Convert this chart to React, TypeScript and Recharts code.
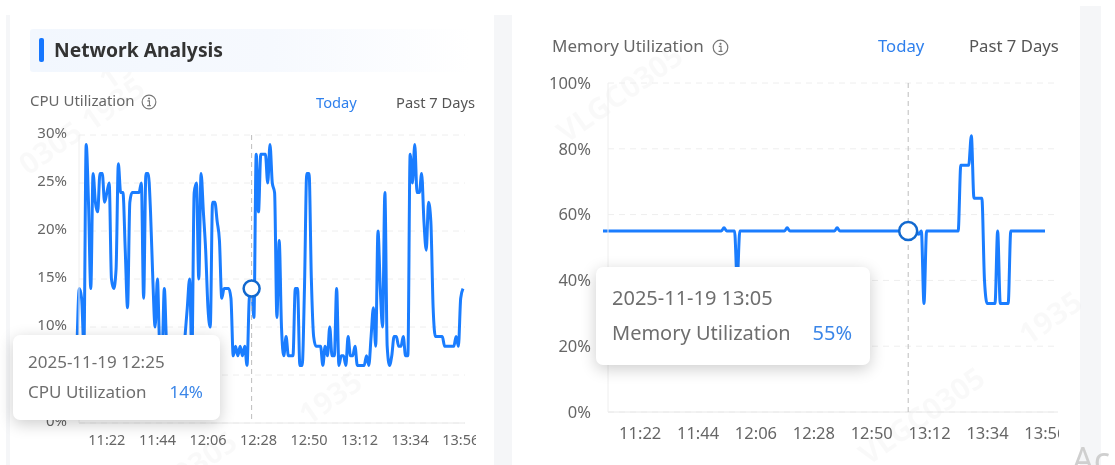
import React from 'react';
import { LineChart, Line, XAxis, YAxis, CartesianGrid, Tooltip } from 'recharts';

const START_MINUTE = 11 * 60 + 9;
const tickMinutes = [682, 704, 726, 748, 770, 792, 814, 836];
const cpuTicks = [0, 5, 10, 15, 20, 25, 30];
const memoryTicks = [0, 20, 40, 60, 80, 100];

const cpuValues = [
  8, 14, 13, 8, 29, 23, 14, 26, 23, 22, 26, 26, 23, 24, 25, 15, 14, 16, 27, 24,
  24, 18, 12, 23, 24, 24, 24, 24, 25, 13, 26, 26, 22, 15, 10, 15, 8, 7, 14, 8,
  6, 6, 6, 6, 6, 6, 6, 9, 12, 15, 7, 24, 25, 15, 26, 22, 18, 12, 10, 23,
  23, 21, 19, 13, 14, 14, 14, 13, 7, 8, 7, 8, 7, 8, 6, 13, 14, 11, 28, 22,
  28, 28, 28, 25, 29, 25, 24, 11, 19, 10, 7, 9, 7, 7, 7, 14, 14, 6, 6, 14,
  26, 26, 15, 9, 8, 8, 8, 6, 8, 7, 10, 7, 7, 14, 6, 7, 7, 6, 9, 7,
  7, 8, 6, 6, 6, 6, 7, 6, 9, 12, 8, 20, 14, 10, 24, 8, 6, 7, 9, 9,
  8, 8, 9, 7, 7, 28, 25, 29, 24, 24, 26, 21, 18, 23, 21, 12, 9, 9, 9, 9,
  8, 8, 8, 8, 8, 9, 8, 13, 14,
];

const memoryValues = [
  55, 55, 55, 55, 55, 55, 55, 55, 55, 55, 55, 55, 55, 55, 55, 55, 55, 55, 55, 55,
  55, 55, 55, 55, 55, 55, 55, 55, 55, 55, 55, 55, 55, 55, 55, 55, 55, 55, 55, 55,
  55, 55, 55, 55, 55, 55, 56, 55, 55, 55, 55, 40, 55, 55, 55, 55, 55, 55, 55, 55,
  55, 55, 55, 55, 55, 55, 55, 55, 55, 55, 56, 55, 55, 55, 55, 55, 55, 55, 55, 55,
  55, 55, 55, 55, 55, 55, 55, 55, 55, 56, 55, 55, 55, 55, 55, 55, 55, 55, 55, 55,
  55, 55, 55, 55, 55, 55, 55, 55, 55, 55, 55, 55, 55, 55, 55, 55, 55, 55, 55, 55,
  54, 55, 33, 55, 55, 55, 55, 55, 55, 55, 55, 55, 55, 55, 55, 55, 75, 75, 75, 75,
  84, 65, 65, 65, 65, 40, 33, 33, 33, 33, 55, 33, 33, 33, 33, 55, 55, 55, 55, 55,
  55, 55, 55, 55, 55, 55, 55, 55, 55,
];

const clock = (m: number) => `${Math.floor(m / 60)}:${String(m % 60).padStart(2, '0')}`;
const cpuData = cpuValues.map((value, i) => ({ minute: START_MINUTE + i, value }));
const memoryData = memoryValues.map((value, i) => ({ minute: START_MINUTE + i, value }));

const FONT = '"Noto Sans", sans-serif';
const BLUE = '#1a7dff';
const GRID = '#eeeeee';

function Tip({ active, payload, name, fontSize, box, labelGap }: any) {
  if (!active || !payload || !payload.length) return null;
  const p = payload[0];
  return (
    <div style={{ boxSizing: 'border-box', width: box.w, height: box.h, background: '#fff', borderRadius: 7,
      boxShadow: '0 4px 16px rgba(0,0,0,0.2)', padding: `${box.pt}px ${box.pr}px 0 ${box.pl}px`, fontFamily: FONT, fontSize, color: '#6e6e6e' }}>
      <div style={{ lineHeight: '24px', whiteSpace: 'nowrap' }}>2025-11-19 {clock(p.payload.minute)}</div>
      <div style={{ lineHeight: '24px', marginTop: labelGap, display: 'flex', justifyContent: 'space-between', whiteSpace: 'nowrap' }}>
        <span>{name}</span>
        <span style={{ color: '#3b86e8' }}>{p.value}%</span>
      </div>
    </div>
  );
}

function Info({ x, y, s }: { x: number; y: number; s: number }) {
  return (
    <svg width={s} height={s} viewBox="0 0 14 14" style={{ position: 'absolute', left: x, top: y }}>
      <circle cx="7" cy="7" r="6" fill="none" stroke="#777" strokeWidth="1" />
      <circle cx="7" cy="4" r="0.9" fill="#777" />
      <path d="M5.6 6h1.8v4M5.4 10.2h3.2" fill="none" stroke="#777" strokeWidth="1" />
    </svg>
  );
}

function Label({ x, y, size, color, children, weight }: any) {
  return (
    <div style={{ position: 'absolute', left: x, top: y, fontFamily: FONT, fontSize: size, color, fontWeight: weight || 400,
      lineHeight: '24px', whiteSpace: 'nowrap' }}>{children}</div>
  );
}

const marks = [
  ['VLGC0305', 548, 118], ['1935', 1010, 320], ['VLGC0305', 850, 440], ['0305  1935', 10, 150],
  ['1935', 90, 65], ['1935', 290, 400], ['0305', 165, 460],
];

export default function App() {
  return (
    <div style={{ position: 'absolute', left: 0, top: 0, width: 1115, height: 465, background: '#fff', overflow: 'hidden', filter: 'blur(0.35px)' }}>
      <div style={{ position: 'absolute', left: 6, top: 15, width: 4, height: 450, background: '#f5f6f8' }} />
      <div style={{ position: 'absolute', left: 494, top: 15, width: 18, height: 450, background: '#f5f6f8' }} />
      <div style={{ position: 'absolute', left: 1080, top: 6, width: 21, height: 459, background: '#f5f6f8' }} />
      {marks.map(([t, x, y], i) => (
        <div key={i} style={{ position: 'absolute', left: x as number, top: y as number, fontFamily: FONT, fontSize: 30, fontWeight: 700,
          color: 'rgba(0,0,0,0.022)', transform: 'rotate(-35deg)', transformOrigin: 'left top', whiteSpace: 'nowrap' }}>{t}</div>
      ))}

      <div style={{ position: 'absolute', left: 30, top: 29, width: 440, height: 43, borderRadius: 3,
        background: 'linear-gradient(90deg,#f2f7fe 0%,#f6f9fe 55%,#ffffff 100%)' }} />
      <div style={{ position: 'absolute', left: 39, top: 38, width: 5, height: 24, borderRadius: 2, background: '#1677ff' }} />
      <Label x={54} y={38} size={19.3} color="#333" weight={700}>Network Analysis</Label>
      <Label x={30} y={88} size={15} color="#666">CPU Utilization</Label>
      <Info x={141} y={94} s={16} />
      <Label x={316} y={90} size={14.7} color="#2f80ed">Today</Label>
      <Label x={396} y={90} size={14.7} color="#555">Past 7 Days</Label>

      <Label x={552} y={34} size={17} color="#666">Memory Utilization</Label>
      <Info x={712} y={39} s={17} />
      <Label x={878} y={34} size={16.7} color="#2f80ed">Today</Label>
      <Label x={969} y={34} size={16.7} color="#555">Past 7 Days</Label>
      <div style={{ position: 'absolute', left: 1072, top: 436, fontFamily: FONT, fontSize: 34, color: '#cfcfcf', whiteSpace: 'nowrap' }}>Ac</div>

      <div style={{ position: 'absolute', left: 0, top: 0, width: 476, height: 465, overflow: 'hidden' }}>
        <LineChart width={476} height={465} data={cpuData} margin={{ top: 135, right: 11, bottom: 0, left: 0 }}>
          <CartesianGrid horizontal vertical={false} stroke={GRID} strokeDasharray="6 5" />
          <XAxis dataKey="minute" type="number" domain={[START_MINUTE, START_MINUTE + 168]} ticks={tickMinutes} interval={0}
            tickFormatter={clock} height={42} padding={{ left: -2, right: 2 }} tickLine={false} axisLine={{ stroke: '#e8e8e8' }}
            tick={{ fontFamily: FONT, fontSize: 14.5, fill: '#666' }} tickMargin={6} />
          <YAxis width={79} domain={[0, 30]} ticks={cpuTicks} interval={0} tickFormatter={(v: number) => `${v}%`} tickLine={false}
            axisLine={{ stroke: '#eeeeee' }} tick={{ fontFamily: FONT, fontSize: 15, fill: '#666', dy: -2 }} tickMargin={6} />
          <Tooltip defaultIndex={76} position={{ x: 13, y: 335 }} allowEscapeViewBox={{ x: true, y: true }} isAnimationActive={false}
            wrapperStyle={{ zIndex: 5, outline: 'none' }} cursor={{ stroke: '#bdbdbd', strokeDasharray: '5 4', strokeWidth: 1 }}
            content={<Tip name="CPU Utilization" fontSize={17} labelGap={6} box={{ w: 207, h: 85, pt: 15, pl: 15, pr: 17 }} />} />
          <Line dataKey="value" type="monotone" stroke={BLUE} strokeWidth={3} dot={false} isAnimationActive={false}
            activeDot={{ r: 8, fill: '#fff', stroke: '#1269cf', strokeWidth: 2.5 }} />
        </LineChart>
      </div>

      <div style={{ position: 'absolute', left: 500, top: 0, width: 559, height: 465, overflow: 'hidden' }}>
        <LineChart width={559} height={465} data={memoryData} margin={{ top: 83, right: 1, bottom: 0, left: 0 }}>
          <CartesianGrid horizontal vertical={false} stroke={GRID} strokeDasharray="6 5" />
          <XAxis dataKey="minute" type="number" domain={[START_MINUTE, START_MINUTE + 168]} ticks={tickMinutes} interval={0}
            tickFormatter={clock} height={53} padding={{ left: -5, right: 13 }} tickLine={false} axisLine={{ stroke: '#e8e8e8' }}
            tick={{ fontFamily: FONT, fontSize: 16.5, fill: '#666', dx: 3 }} tickMargin={9} />
          <YAxis width={108} domain={[0, 100]} ticks={memoryTicks} interval={0} tickFormatter={(v: number) => `${v}%`} tickLine={false}
            axisLine={{ stroke: '#eeeeee' }} tick={{ fontFamily: FONT, fontSize: 16.5, fill: '#666' }} tickMargin={11} />
          <Tooltip defaultIndex={116} position={{ x: 96, y: 267 }} allowEscapeViewBox={{ x: true, y: true }} isAnimationActive={false}
            wrapperStyle={{ zIndex: 5, outline: 'none' }} cursor={{ stroke: '#bdbdbd', strokeDasharray: '5 4', strokeWidth: 1 }}
            content={<Tip name="Memory Utilization" fontSize={20} labelGap={11} box={{ w: 274, h: 98, pt: 19, pl: 16, pr: 18 }} />} />
          <Line dataKey="value" type="monotone" stroke={BLUE} strokeWidth={3} dot={false} isAnimationActive={false}
            activeDot={{ r: 9, fill: '#fff', stroke: '#1269cf', strokeWidth: 2.5 }} />
        </LineChart>
      </div>
    </div>
  );
}
